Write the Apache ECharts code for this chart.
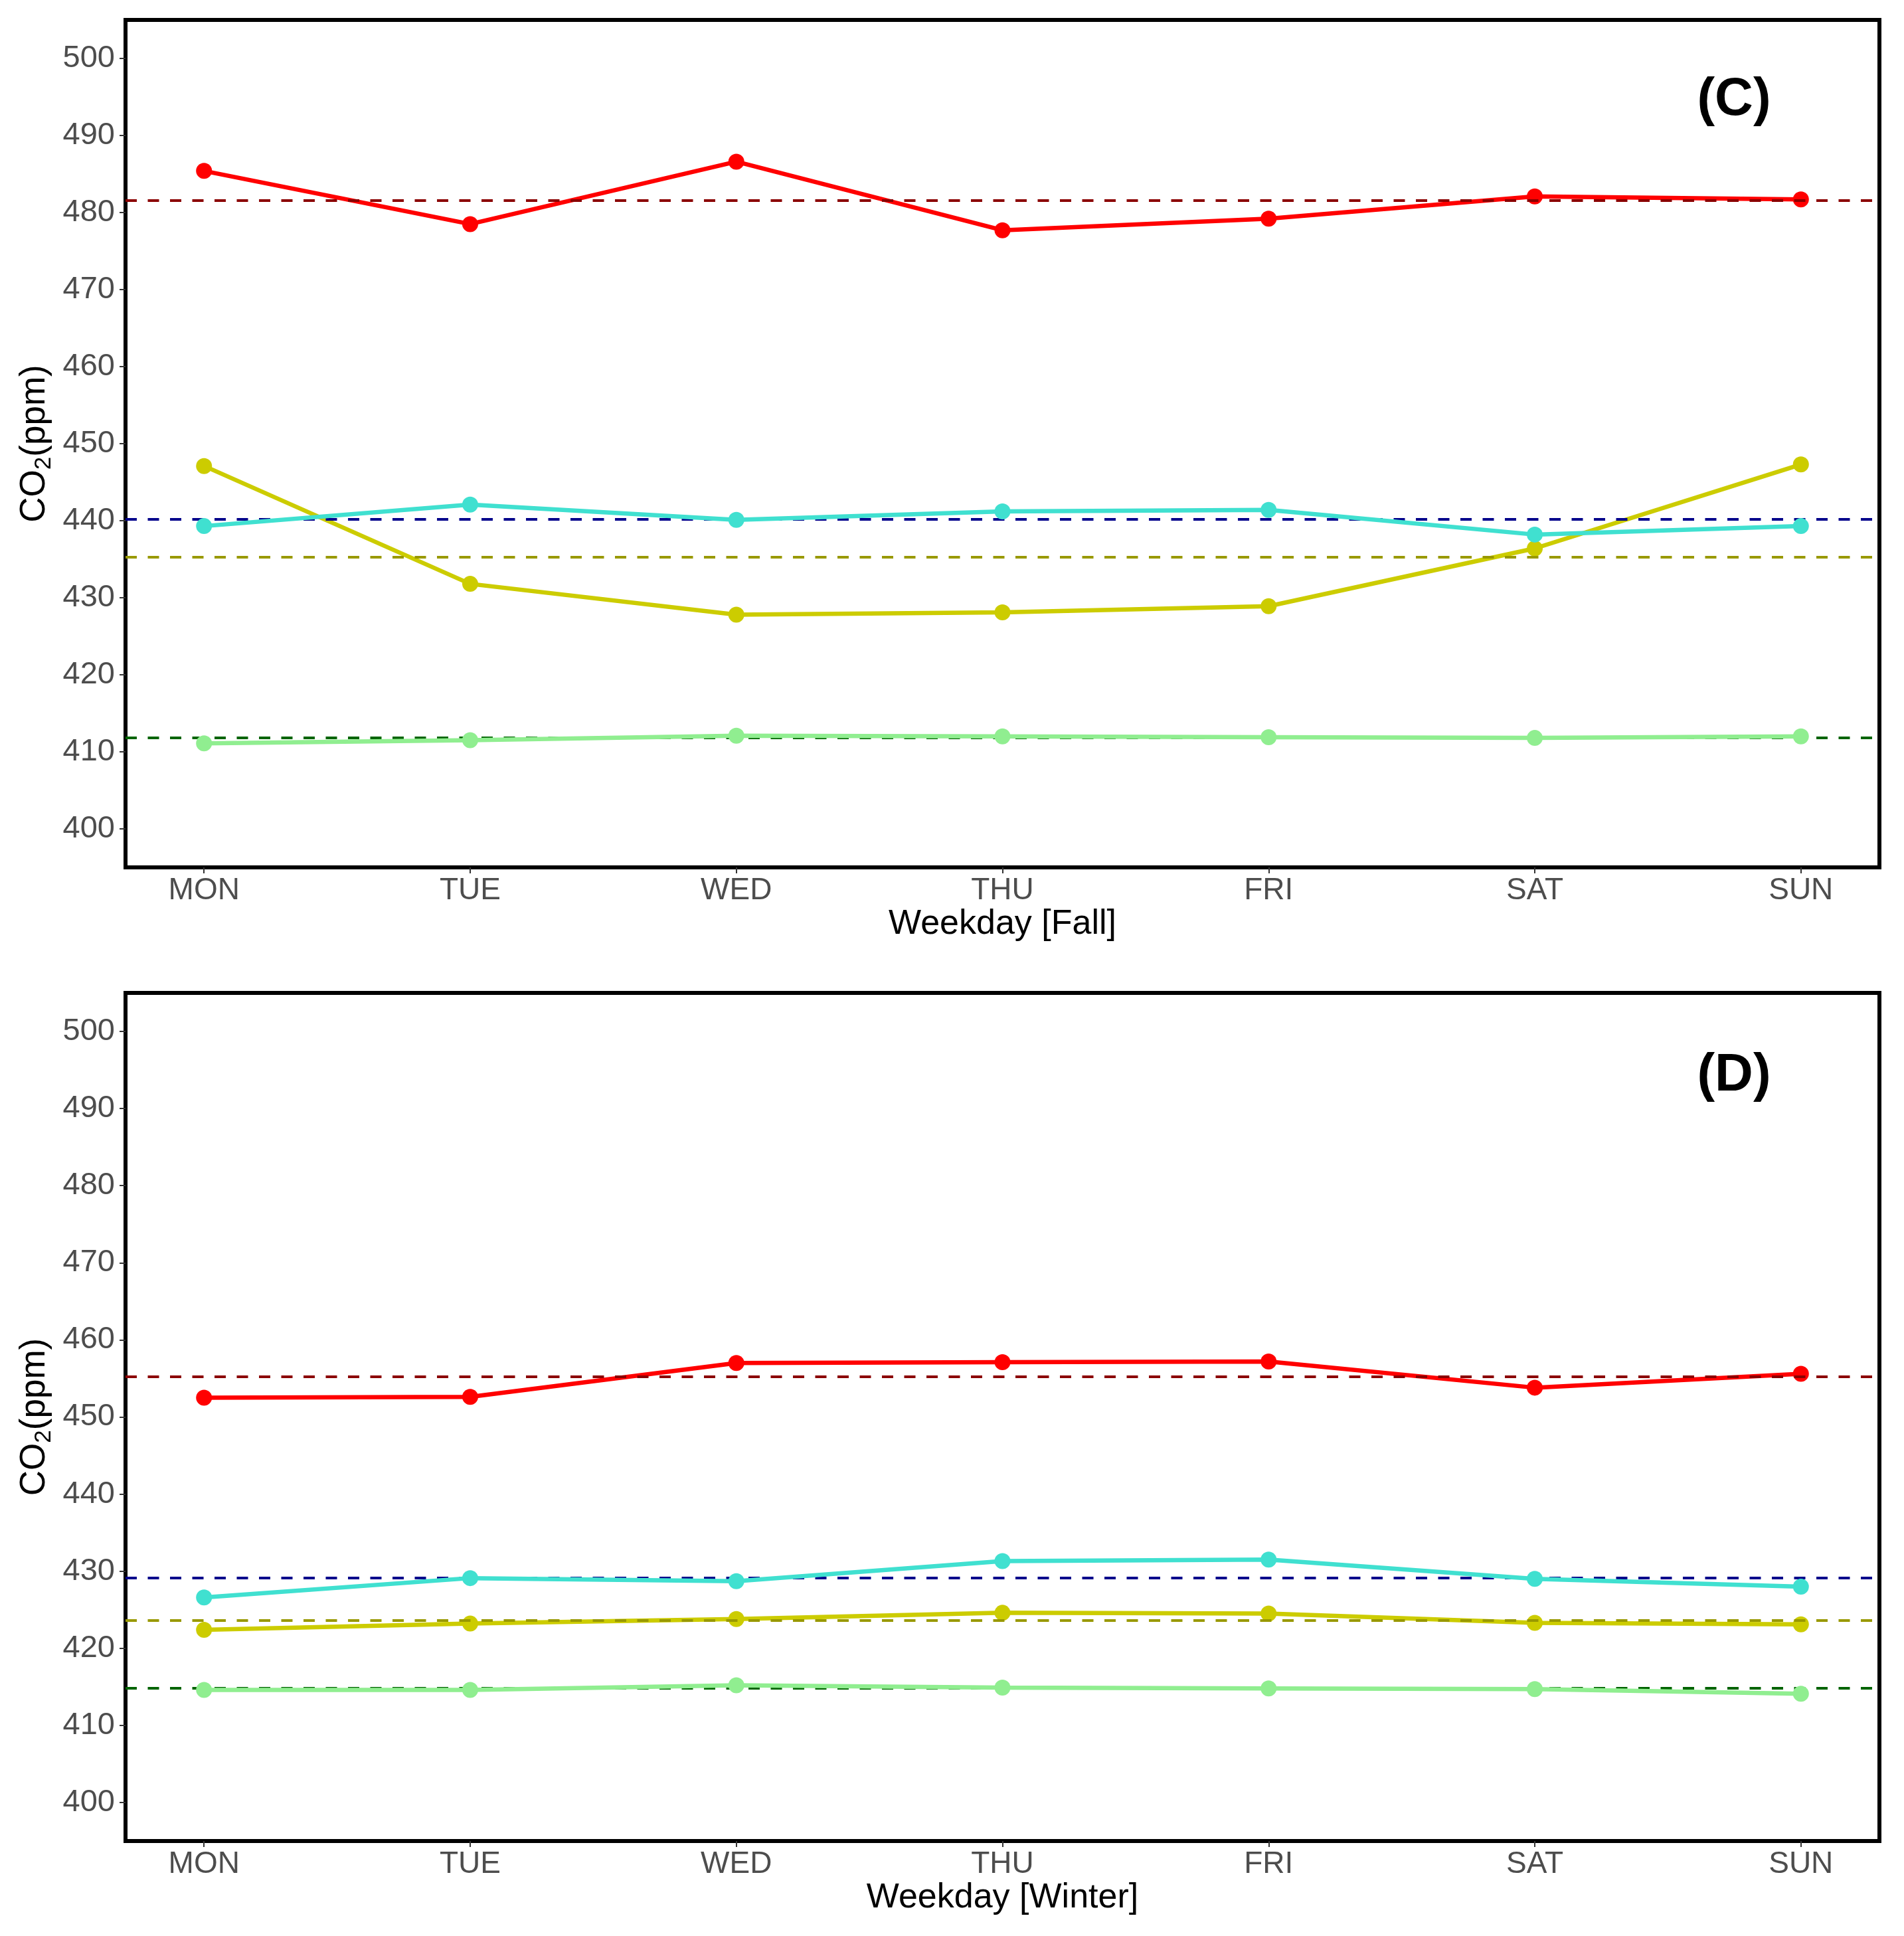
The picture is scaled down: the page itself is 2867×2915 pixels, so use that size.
<!DOCTYPE html>
<html>
<head>
<meta charset="utf-8">
<script src="https://cdn.jsdelivr.net/npm/echarts@6/dist/echarts.min.js"></script>
<style>
html,body{margin:0;padding:0;background:#fff;}
#chart{width:2867px;height:2915px;}
</style>
</head>
<body>
<div id="chart"></div>
<script>
// ---- data ----
const days = ['MON', 'TUE', 'WED', 'THU', 'FRI', 'SAT', 'SUN'];
const yTicks = [400, 410, 420, 430, 440, 450, 460, 470, 480, 490, 500];

// Panel (C) Fall
const fallRed    = [485.4, 478.5, 486.6, 477.7, 479.2, 482.1, 481.7];
const fallYellow = [447.1, 431.8, 427.8, 428.1, 428.9, 436.4, 447.3];
const fallCyan   = [439.3, 442.1, 440.1, 441.2, 441.4, 438.2, 439.3];
const fallGreen  = [411.1, 411.5, 412.1, 412.0, 411.9, 411.8, 412.0];
const fallMeans  = [481.6, 440.2, 435.3, 411.8]; // red, blue, olive, green dashed

// Panel (D) Winter
const winterRed    = [452.5, 452.6, 457.0, 457.1, 457.2, 453.8, 455.6];
const winterYellow = [422.4, 423.2, 423.8, 424.6, 424.5, 423.3, 423.1];
const winterCyan   = [426.6, 429.1, 428.7, 431.3, 431.5, 429.0, 428.0];
const winterGreen  = [414.6, 414.6, 415.2, 414.9, 414.8, 414.7, 414.1];
const winterMeans  = [455.2, 429.1, 423.6, 414.8];

// ---- styles ----
const lineColors = ['#FF0000', '#CCCC00', '#40E0D0', '#90EE90'];
const meanColors = ['#8B0000', '#00008B', '#999900', '#006400'];
const FONT = "'Liberation Sans', Arial, sans-serif";

const chart = echarts.init(document.getElementById('chart'), null, {renderer: 'canvas'});

function pairs(arr) { return arr.map((v, i) => [i, v]); }

function xAxisFor(idx, name) {
  return {
    type: 'value', gridIndex: idx, min: -0.295, max: 6.295,
    axisLine: {show: false, onZero: false},
    splitLine: {show: false},
    axisTick: {show: true, customValues: [0,1,2,3,4,5,6], length: 9, lineStyle: {color: '#333', width: 2}},
    axisLabel: {customValues: [0,1,2,3,4,5,6], formatter: v => days[Math.round(v)],
      fontSize: 46, color: '#4D4D4D', fontFamily: FONT, margin: 12},
    name: name, nameLocation: 'middle', nameGap: 60,
    nameTextStyle: {fontSize: 52, color: '#000', fontFamily: FONT}
  };
}
function yAxisFor(idx) {
  return {
    type: 'value', gridIndex: idx, min: 395, max: 505,
    axisLine: {show: false, onZero: false},
    splitLine: {show: false},
    axisTick: {show: true, customValues: yTicks, length: 9, lineStyle: {color: '#333', width: 2}},
    axisLabel: {customValues: yTicks, fontSize: 47, color: '#4D4D4D', fontFamily: FONT, margin: 16},
    name: '{a|CO}{b|2}{a|(ppm)}', nameLocation: 'middle', nameRotate: 90, nameGap: 93,
    nameTextStyle: {
      color: '#000',
      rich: {
        a: {fontSize: 53, fontFamily: FONT, color: '#000'},
        b: {fontSize: 35, fontFamily: FONT, color: '#000', padding: [28, 0, 0, 0]}
      }
    }
  };
}

function panelSeries(idx, lines, means) {
  const out = [];
  means.forEach((m, k) => {
    out.push({
      type: 'line', xAxisIndex: idx, yAxisIndex: idx, data: [], z: 1, silent: true,
      markLine: {
        silent: true, symbol: 'none', label: {show: false}, animation: false,
        lineStyle: {color: meanColors[k], width: 4, type: [17, 16.5]},
        emphasis: {disabled: true},
        data: [{yAxis: m}]
      }
    });
  });
  lines.forEach((arr, k) => {
    out.push({
      type: 'line', xAxisIndex: idx, yAxisIndex: idx, data: pairs(arr), z: 3 + k,
      symbol: 'circle', symbolSize: 24, showSymbol: true,
      lineStyle: {color: lineColors[k], width: 6.5},
      itemStyle: {color: lineColors[k]},
      emphasis: {disabled: true}
    });
  });
  return out;
}

const option = {
  backgroundColor: '#fff',
  animation: false,
  grid: [
    {left: 189, width: 2641, top: 30, height: 1276, show: true, borderColor: '#000', borderWidth: 6, backgroundColor: 'transparent'},
    {left: 189, width: 2641, top: 1495, height: 1277, show: true, borderColor: '#000', borderWidth: 6, backgroundColor: 'transparent'}
  ],
  xAxis: [xAxisFor(0, 'Weekday [Fall]'), xAxisFor(1, 'Weekday [Winter]')],
  yAxis: [yAxisFor(0), yAxisFor(1)],
  graphic: [
    {type: 'text', x: 2611, y: 151, z: 10, style: {text: '(C)', font: "bold 80px 'Liberation Sans', Arial", fill: '#000', textAlign: 'center', textVerticalAlign: 'middle'}},
    {type: 'text', x: 2611, y: 1620, z: 10, style: {text: '(D)', font: "bold 80px 'Liberation Sans', Arial", fill: '#000', textAlign: 'center', textVerticalAlign: 'middle'}}
  ],
  series: [].concat(
    panelSeries(0, [fallRed, fallYellow, fallCyan, fallGreen], fallMeans),
    panelSeries(1, [winterRed, winterYellow, winterCyan, winterGreen], winterMeans)
  )
};
chart.setOption(option);
</script>
</body>
</html>
